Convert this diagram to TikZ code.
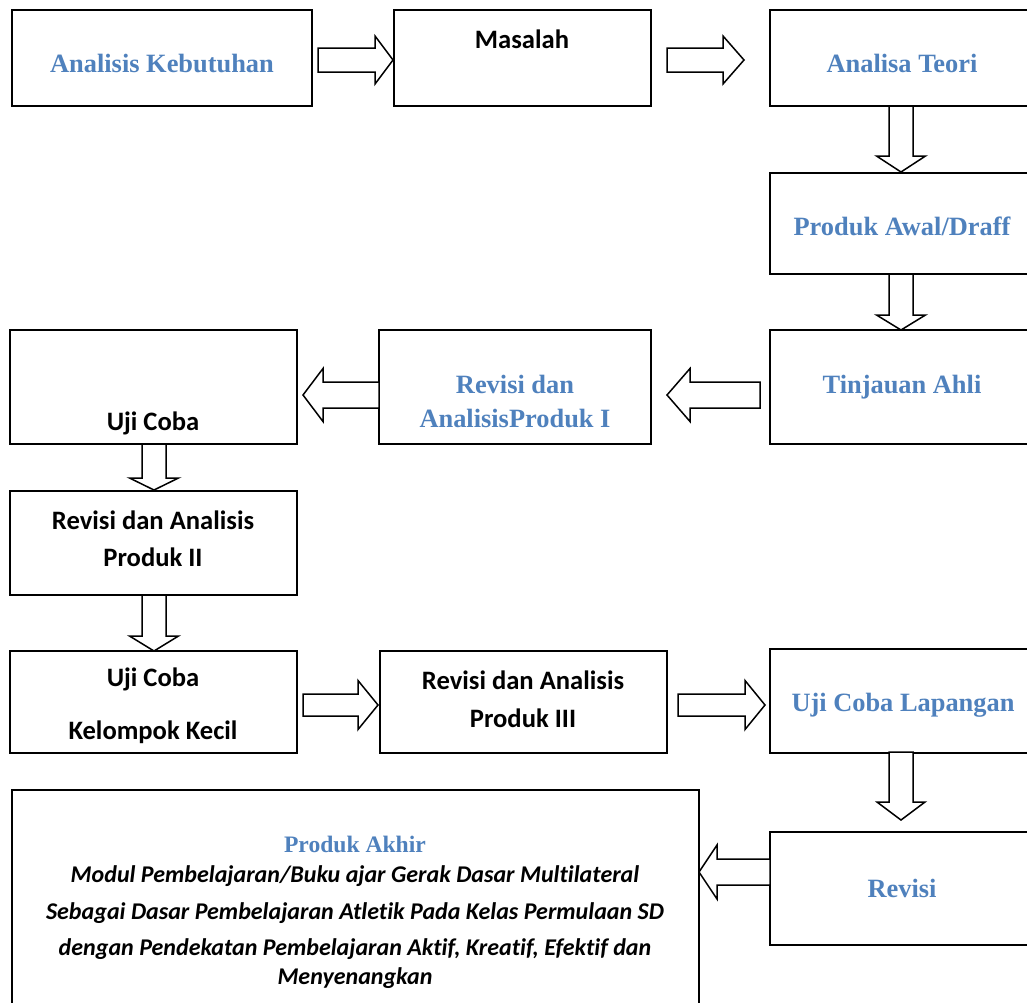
\documentclass[tikz,border=0pt]{standalone}
\usepackage{fontspec}
\setmainfont{Liberation Serif}
\newfontfamily\calib[Ligatures=NoCommon]{Carlito}
\definecolor{wblue}{HTML}{4F81BD}
\newcommand{\boxnode}[5]{\node[box, minimum width={(#4)-(#2)}, minimum height={(#5)-(#3)}] (#1) at ({((#2)+(#4))/2},{((#3)+(#5))/2}) {};}
\newcommand{\harr}[6]{\draw[blk] (#1,#4-#5) -- (#2,#4-#5) -- (#2,#4-#6) -- (#3,#4) -- (#2,#4+#6) -- (#2,#4+#5) -- (#1,#4+#5) -- cycle;}
\newcommand{\varr}[6]{\draw[blk] (#1-#5,#2) -- (#1-#5,#3) -- (#1-#6,#3) -- (#1,#4) -- (#1+#6,#3) -- (#1+#5,#3) -- (#1+#5,#2) -- cycle;}
\begin{document}
\begin{tikzpicture}[x=1pt,y=-1pt,
  box/.style={draw, line width=1.8pt, inner sep=0pt, fill=white},
  blk/.style={draw, line width=1.5pt, line join=miter, fill=white},
  bt/.style={text=wblue, font=\fontsize{26.4}{34}\selectfont\bfseries, align=center, inner sep=0pt},
  kt/.style={text=black, font=\calib\fontsize{26.6}{37}\selectfont\bfseries, align=center, inner sep=0pt},
  it/.style={text=black, font=\calib\fontsize{24}{36}\selectfont\bfseries\itshape, inner sep=0pt}]
\useasboundingbox (0,0) rectangle (1027,1002);
\clip (0,0) rectangle (1027,1002);
% boxes
\boxnode{ak}{12}{10}{312}{106}
\boxnode{ms}{394}{10}{651}{106}
\boxnode{at}{770}{10}{1036}{106}
\boxnode{pa}{770}{173}{1036}{274}
\boxnode{ta}{770}{330}{1036}{444}
\boxnode{uc}{10}{330}{297}{444}
\boxnode{r1}{379}{330}{651}{444}
\boxnode{r2}{10}{491}{297}{595}
\boxnode{kk}{10}{651}{297}{753}
\boxnode{r3}{380}{651}{667}{753}
\boxnode{ul}{770}{649}{1036}{753}
\boxnode{rv}{770}{832}{1036}{945}
\boxnode{pk}{12}{790}{699}{1020}
% arrows
\harr{318}{375}{393}{60}{12}{24}
\harr{667}{723}{744}{60}{12}{24}
\varr{901}{106}{156}{172}{12}{24.5}
\varr{901}{274}{315}{330}{12}{24.5}
\harr{760}{690}{667}{395}{13}{26.5}
\harr{379}{323}{303}{395}{13}{26.5}
\varr{154}{444}{478}{490}{12}{24.5}
\varr{154}{595}{636}{651}{12}{24.5}
\harr{303}{358}{378}{705}{11}{24.5}
\harr{678}{745}{765}{705}{11}{24.5}
\varr{901}{752}{802}{820}{12}{24}
\harr{770}{717}{699}{872}{13}{27}
% texts
\node[bt] (tak) at (162,63) {Analisis Kebutuhan};
\node[kt] (tms) at (522,39) {Masalah};
\node[bt] (tat) at (902,63) {Analisa Teori};
\node[bt] (tpa) at (902,226) {Produk Awal/Draff};
\node[bt] (tta) at (902,387) {Tinjauan Ahli};
\node[bt] (tr1) at (515,401) {Revisi dan\\AnalisisProduk I};
\node[kt] (tuc) at (153,423) {Uji Coba};
\node[kt] (tr2) at (153,539) {Revisi dan Analisis\\Produk II};
\node[kt, font=\calib\fontsize{26.6}{53}\selectfont\bfseries] (tkk) at (153,706) {Uji Coba\\Kelompok Kecil};
\node[kt, font=\calib\fontsize{26.6}{38}\selectfont\bfseries] (tr3) at (523,699) {Revisi dan Analisis\\Produk III};
\node[bt] (tul) at (903,705) {Uji Coba Lapangan};
\node[bt] (trv) at (902,888) {Revisi};
\node[bt, font=\fontsize{23.6}{26}\selectfont\bfseries] (tpk) at (355,844) {Produk Akhir};
\node[it] (l1) at (355,876) {Modul Pembelajaran/Buku ajar Gerak Dasar Multilateral};
\node[it] (l2) at (355,913) {Sebagai Dasar Pembelajaran Atletik Pada Kelas Permulaan SD};
\node[it] (l3) at (355,949) {dengan Pendekatan Pembelajaran Aktif, Kreatif, Efektif dan};
\node[it] (l4) at (355,978) {Menyenangkan};
\end{tikzpicture}
\end{document}
